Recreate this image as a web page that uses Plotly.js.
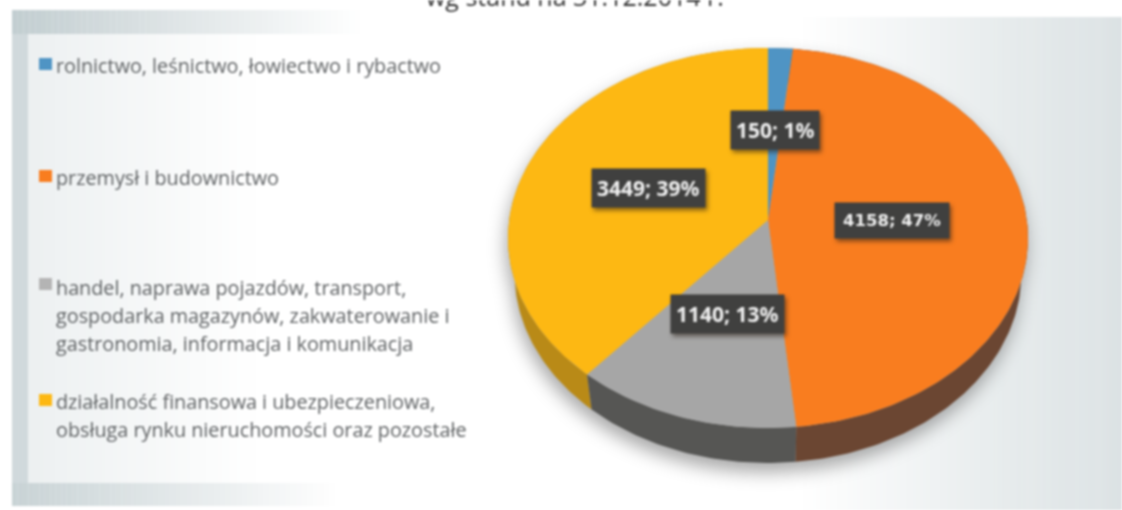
<!DOCTYPE html>
<html>
<head>
<meta charset="utf-8">
<script src="https://cdn.plot.ly/plotly-3.0.1.min.js"></script>
<style>
html,body{margin:0;padding:0;background:#fff;overflow:hidden}
#chart{width:1122px;height:510px;filter:blur(0.9px)}
.scatterlayer{filter:drop-shadow(-2px 9px 9px rgba(60,60,60,.45))}
.annotation rect.bg{filter:drop-shadow(2px 3px 2px rgba(40,30,20,.55))}
</style>
</head>
<body>
<div id="chart"></div>
<script>
const categories = [
  "rolnictwo, leśnictwo, łowiectwo i rybactwo",
  "przemysł i budownictwo",
  "handel, naprawa pojazdów, transport, gospodarka magazynów, zakwaterowanie i gastronomia, informacja i komunikacja",
  "działalność finansowa i ubezpieczeniowa, obsługa rynku nieruchomości oraz pozostałe"
];
const values = [150, 4158, 1140, 3449];
const percents = [1, 47, 13, 39];
const legendLines = [
  ["rolnictwo, leśnictwo, łowiectwo i rybactwo"],
  ["przemysł i budownictwo"],
  ["handel, naprawa pojazdów, transport,", "gospodarka magazynów, zakwaterowanie i", "gastronomia, informacja i komunikacja"],
  ["działalność finansowa i ubezpieczeniowa,", "obsługa rynku nieruchomości oraz pozostałe"]
];
const legendLineY = [[65],[177],[287,315,343],[401,429]];
const legendSquareY = [64,176,284,400];
const titleText = "wg stanu na 31.12.2014 r.";
const topColors = ["#4f94c4","#f97d1f","#a6a6a6","#fdb813"];
const wallColors = ["#3f6a85","#6b4632","#565654","#b98a17"];

const total = values.reduce((a,b)=>a+b,0);
const cx=768, cy=220, a=258.8, b=188.3, k=0.0947, depth=35, shrink=0.975;

function project(thetaDeg, f){
  const t=thetaDeg*Math.PI/180, u=Math.sin(t)*f, v=Math.cos(t)*f, w=1+k*v;
  return [cx+a*u/w, cy-b*v/w];
}
function arc(t0,t1){
  const pts=[], n=Math.max(2,Math.ceil(t1-t0));
  for(let i=0;i<=n;i++) pts.push(project(t0+(t1-t0)*i/n,1));
  return pts;
}
const traces=[], annotations=[], shapes=[];

let cum=0;
const spans=values.map(v=>{const s=[cum/total*360,(cum+v)/total*360];cum+=v;return s;});

[0,3,2,1].forEach(i=>{
  const p=arc(spans[i][0],spans[i][1]);
  const low=p.map(q=>[cx+(q[0]-cx)*shrink,q[1]+depth]).reverse();
  const all=p.concat(low);
  traces.push({type:"scatter",mode:"lines",x:all.map(q=>q[0]),y:all.map(q=>q[1]),fill:"toself",
    fillcolor:wallColors[i],line:{width:0,color:wallColors[i]},hoverinfo:"skip",showlegend:false});
});
values.forEach((v,i)=>{
  const p=[[cx,cy]].concat(arc(spans[i][0],spans[i][1]));
  traces.push({type:"scatter",mode:"lines",x:p.map(q=>q[0]),y:p.map(q=>q[1]),fill:"toself",
    fillcolor:topColors[i],line:{width:0,color:topColors[i]},name:categories[i],
    text:v+"; "+percents[i]+"%",hoverinfo:"text",showlegend:false});
  const mid=project((spans[i][0]+spans[i][1])/2,i===1?0.48:0.5);
  annotations.push({x:mid[0],y:mid[1],xref:"x",yref:"y",showarrow:false,
    text:"<b>"+v+"; "+percents[i]+"%</b>",bgcolor:"#40403f",borderpad:i===1?8:5,
    font:{family:i===1?"DejaVu Sans":"Noto Sans",size:i===1?16.5:21,color:"#f0f0f0"}});
  shapes.push({type:"rect",layer:"above",x0:39,x1:52,y0:legendSquareY[i]-6,y1:legendSquareY[i]+6,
    fillcolor:i===2?"#b4b4b4":topColors[i],line:{width:0}});
  legendLines[i].forEach((t,j)=>{
    annotations.push({x:54,y:legendLineY[i][j],xref:"x",yref:"y",xanchor:"left",yanchor:"middle",
      showarrow:false,text:t,font:{family:"Open Sans",size:19.8,color:"#5f6264"}});
  });
});
annotations.push({x:575,y:15,xref:"x",yref:"y",yanchor:"bottom",showarrow:false,text:titleText,
  font:{family:"Open Sans",size:25,color:"#333"}});

function strips(x0,x1,y0,y1,from,to){
  const n=60;
  for(let i=0;i<n;i++){
    const s=i/n,e=(i+1)/n,al=from+(to-from)*(i+.5)/n;
    shapes.push({type:"rect",layer:"below",x0:x0+(x1-x0)*s,x1:x0+(x1-x0)*e,y0:y0,y1:y1,
      fillcolor:"rgba(170,186,190,"+al.toFixed(3)+")",line:{width:0}});
  }
}
strips(12,360,10,34,.72,0);      // top band, left
strips(12,340,483,506,.65,0);    // bottom band, left
strips(12,28,34,483,.68,.68);    // left band
strips(28,260,34,483,.22,0);     // inner left glow
strips(800,1000,17,510,0,.28);   // right side tint
strips(1000,1122,17,510,.28,.42);

Plotly.newPlot("chart",traces,{
  width:1122,height:510,margin:{l:0,r:0,t:0,b:0,pad:0},
  paper_bgcolor:"#ffffff",plot_bgcolor:"rgba(0,0,0,0)",showlegend:false,
  xaxis:{range:[0,1122],visible:false,fixedrange:true},
  yaxis:{range:[510,0],visible:false,fixedrange:true},
  shapes:shapes,annotations:annotations
},{displayModeBar:false,staticPlot:true});
</script>
</body>
</html>
